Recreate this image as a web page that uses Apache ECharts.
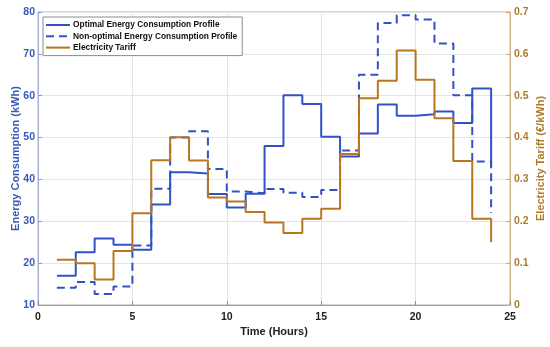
<!DOCTYPE html>
<html>
<head>
<meta charset="utf-8">
<script src="https://cdn.jsdelivr.net/npm/echarts@6/dist/echarts.min.js"></script>
<style>html,body{margin:0;padding:0;background:#fff;}#c{width:550px;height:347px;}</style>
</head>
<body>
<div id="c"></div>
<script>
const hours = [1,2,3,4,5,6,7,8,9,10,11,12,13,14,15,16,17,18,19,20,21,22,23,24];
const optimal = [17.0,22.6,25.9,24.4,23.2,34.0,41.7,41.4,36.5,33.3,36.6,48.0,60.1,58.0,50.2,45.5,51.0,57.9,55.2,55.6,56.2,53.5,61.7,43.0];
const nonOptimal = [14.1,15.5,12.6,14.4,24.2,37.8,50.0,51.5,42.5,37.1,36.7,37.7,36.8,35.8,37.5,46.9,65.0,77.4,79.2,78.2,72.5,60.1,44.3,32.0];
const tariff = [0.108,0.100,0.061,0.129,0.219,0.346,0.401,0.345,0.257,0.247,0.222,0.197,0.172,0.206,0.230,0.361,0.494,0.536,0.608,0.538,0.446,0.344,0.206,0.150];
const xTicks = [0,5,10,15,20,25];

const BLUE = '#3152c6';
const ORANGE = '#b8771f';
const FONT = '"Liberation Sans", Arial, sans-serif';

const pair = (arr) => hours.map((h, i) => [h, arr[i]]);

const chart = echarts.init(document.getElementById('c'), null, {renderer: 'canvas'});
chart.setOption({
  animation: false,
  backgroundColor: '#fff',
  textStyle: {fontFamily: FONT},
  grid: {left: 38, right: 40, top: 12, bottom: 42, show: true, borderColor: '#b0b0b0', borderWidth: 1,
    containLabel: false, outerBoundsMode: 'none'},
  legend: {
    orient: 'vertical', left: 43, top: 17,
    itemWidth: 24, itemHeight: 10, itemGap: 3.3,
    padding: [4, 5, 4, 2],
    borderColor: '#8c8c8c', borderWidth: 1, backgroundColor: '#fff',
    itemStyle: {opacity: 0},
    textStyle: {fontFamily: FONT, fontWeight: 'bold', fontSize: 8.4, color: '#111', padding: [0, 0, 0, -2]},
    data: ['Optimal Energy Consumption Profile', 'Non-optimal Energy Consumption Profile', 'Electricity Tariff']
  },
  xAxis: {
    type: 'value', min: 0, max: 25, interval: 5,
    name: 'Time (Hours)', nameLocation: 'middle', nameGap: 21, nameMoveOverlap: false,
    nameTextStyle: {fontFamily: FONT, fontWeight: 'bold', fontSize: 11, color: '#222'},
    axisLine: {show: true, lineStyle: {color: '#a0a0a0'}},
    axisTick: {show: true, inside: true, length: 4, lineStyle: {color: '#888'}},
    axisLabel: {fontFamily: FONT, fontWeight: 'bold', fontSize: 10.5, color: '#222', margin: 7,
      formatter: (v) => xTicks.includes(v) ? String(v) : ''},
    splitLine: {show: true, lineStyle: {color: '#e4e4e4'}}
  },
  yAxis: [{
    type: 'value', min: 10, max: 80, interval: 10, position: 'left',
    name: 'Energy Consumption (kWh)', nameLocation: 'middle', nameGap: 17, nameRotate: 90, nameMoveOverlap: false,
    nameTextStyle: {fontFamily: FONT, fontWeight: 'bold', fontSize: 11, color: '#3a58b8'},
    axisLine: {show: true, lineStyle: {color: '#aab4d8'}},
    axisTick: {show: true, inside: true, length: 4, lineStyle: {color: '#8a98cc'}},
    axisLabel: {fontFamily: FONT, fontWeight: 'bold', fontSize: 10.5, color: '#3a58b8', margin: 3},
    splitLine: {show: true, lineStyle: {color: '#e4e4e4'}}
  }, {
    type: 'value', min: 0, max: 0.7, interval: 0.1, position: 'right',
    name: 'Electricity Tariff (€/kWh)', nameLocation: 'middle', nameGap: 25, nameRotate: 90, nameMoveOverlap: false,
    nameTextStyle: {fontFamily: FONT, fontWeight: 'bold', fontSize: 11, color: '#b07a2a'},
    axisLine: {show: true, lineStyle: {color: '#d2b68a'}},
    axisTick: {show: true, inside: true, length: 4, lineStyle: {color: '#c9a66e'}},
    axisLabel: {fontFamily: FONT, fontWeight: 'bold', fontSize: 10.5, color: '#b07a2a', margin: 4,
      formatter: (v) => Number(v.toFixed(1)).toString()},
    splitLine: {show: false}
  }],
  series: [{
    name: 'Optimal Energy Consumption Profile', type: 'line', step: 'end',
    yAxisIndex: 0, data: pair(optimal), symbol: 'none', showSymbol: false,
    lineStyle: {color: BLUE, width: 2}, itemStyle: {color: BLUE}
  }, {
    name: 'Non-optimal Energy Consumption Profile', type: 'line', step: 'end',
    yAxisIndex: 0, data: pair(nonOptimal), symbol: 'none', showSymbol: false,
    lineStyle: {color: BLUE, width: 2, type: [8, 5]}, itemStyle: {color: BLUE}
  }, {
    name: 'Electricity Tariff', type: 'line', step: 'end',
    yAxisIndex: 1, data: pair(tariff), symbol: 'none', showSymbol: false,
    lineStyle: {color: ORANGE, width: 2}, itemStyle: {color: ORANGE}
  }]
});
</script>
</body>
</html>
